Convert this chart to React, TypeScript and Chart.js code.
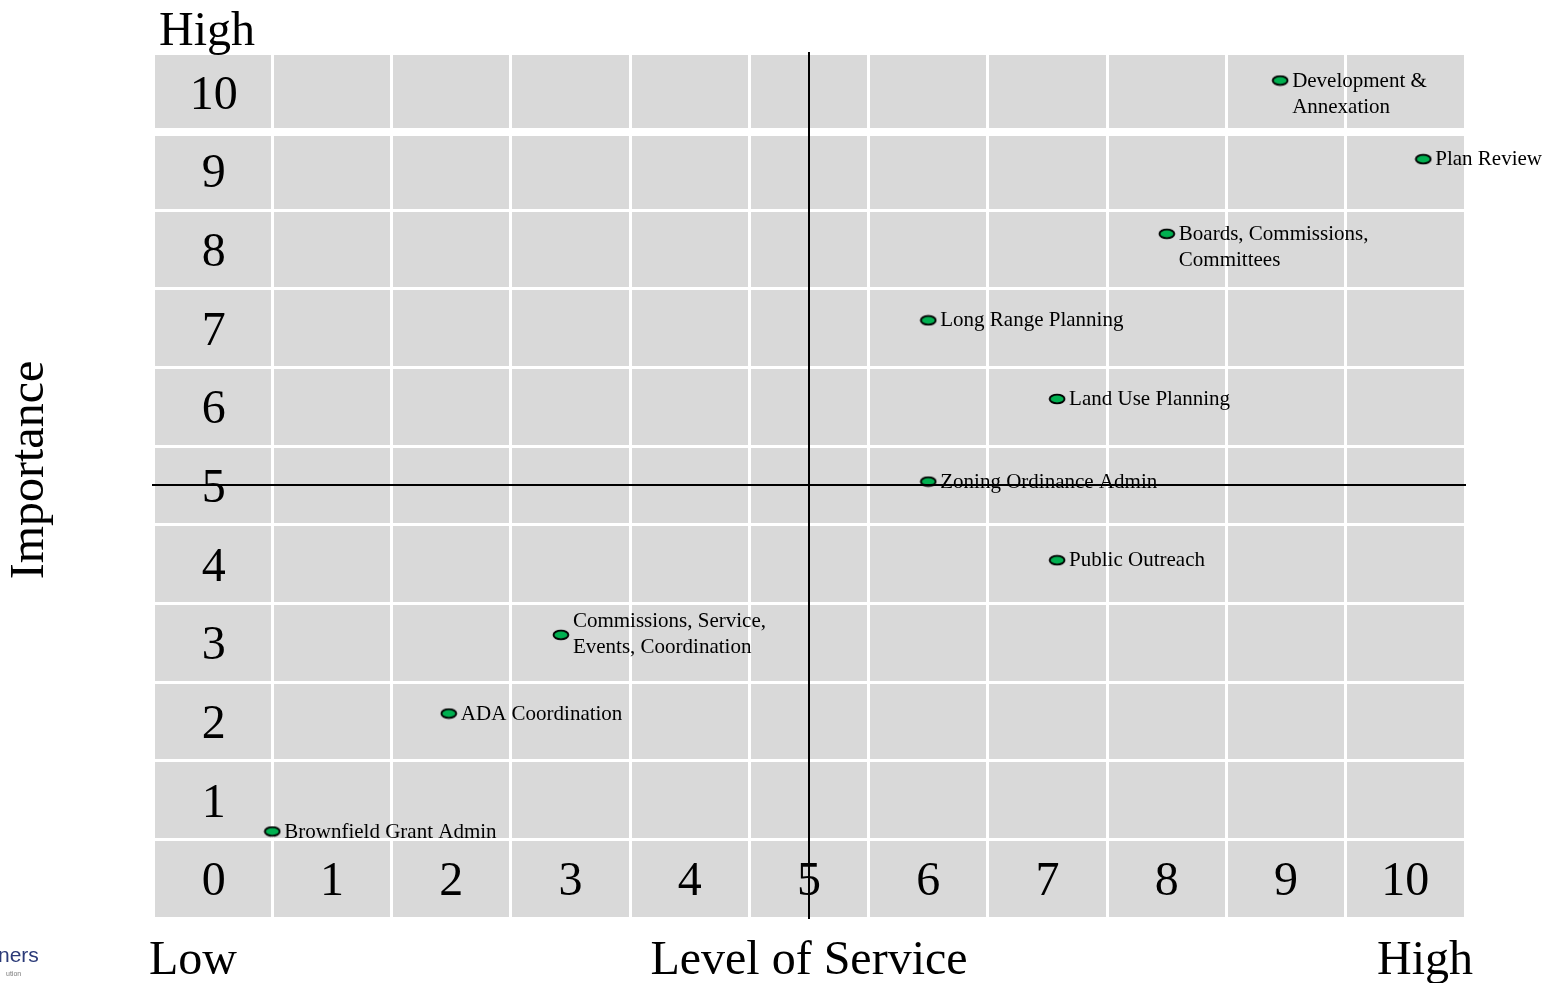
import { useEffect, useRef } from "react";
import { Chart, registerables } from "chart.js";

Chart.register(...registerables);

// Services rated on level of service (x) and importance (y)
const SERVICES: string[][] = [
  ["Development &", "Annexation"],
  ["Plan Review"],
  ["Boards, Commissions,", "Committees"],
  ["Long Range Planning"],
  ["Land Use Planning"],
  ["Zoning Ordinance Admin"],
  ["Public Outreach"],
  ["Commissions, Service,", "Events, Coordination"],
  ["ADA Coordination"],
  ["Brownfield Grant Admin"],
];
const LEVEL_OF_SERVICE = [8.95, 10.15, 8, 6, 7.08, 6, 7.08, 2.92, 1.98, 0.5];
const IMPORTANCE = [10.15, 9.15, 8.2, 7.1, 6.1, 5.05, 4.05, 3.1, 2.1, 0.6];

// Score labels written in the first column and the bottom row
const SCORE_TICKS = [0, 1, 2, 3, 4, 5, 6, 7, 8, 9, 10];
const QUADRANT_SPLIT = 5;

const AXIS_TITLES = {
  importance: "Importance",
  service: "Level of Service",
  low: "Low",
  high: "High",
};

// Labels whose text block is centred on the marker rather than starting at it
const CENTERED_LABELS = ["Commissions, Service,"];

const SERIF = '"Liberation Serif", "Times New Roman", serif';
const CELL_GRAY = "#d9d9d9";
const MARKER_GREEN = "#00b050";

function makeMarker(): HTMLCanvasElement {
  const c = document.createElement("canvas");
  c.width = 18;
  c.height = 12;
  const g = c.getContext("2d")!;
  g.beginPath();
  g.ellipse(9, 6, 7.4, 4.4, 0, 0, Math.PI * 2);
  g.fillStyle = MARKER_GREEN;
  g.fill();
  g.lineWidth = 1.9;
  g.strokeStyle = "#000";
  g.stroke();
  return c;
}

const cellEdges = [SCORE_TICKS[0] - 0.5, ...SCORE_TICKS.map((t) => t + 0.5)];

const matrixPlugin = {
  id: "matrixDecor",
  beforeDraw(chart: any) {
    const { ctx, chartArea: a } = chart;
    ctx.save();
    ctx.fillStyle = CELL_GRAY;
    ctx.fillRect(a.left, a.top, a.right - a.left, a.bottom - a.top);
    ctx.restore();
  },
  afterDatasetsDraw(chart: any) {
    const { ctx } = chart;
    const xs = chart.scales.x;
    const ys = chart.scales.y;
    ctx.save();
    ctx.fillStyle = "#000";

    // score numbers inside the first column and bottom row
    ctx.font = `48px ${SERIF}`;
    ctx.textAlign = "center";
    ctx.textBaseline = "alphabetic";
    const x0 = xs.getPixelForValue(SCORE_TICKS[0]);
    const y0 = ys.getPixelForValue(SCORE_TICKS[0]);
    SCORE_TICKS.forEach((t) => {
      ctx.fillText(String(t), x0 + 1, ys.getPixelForValue(t) + 16.5);
      if (t !== SCORE_TICKS[0]) {
        ctx.fillText(String(t), xs.getPixelForValue(t), y0 + 16.5);
      }
    });

    // service labels next to their markers
    ctx.font = `21px ${SERIF}`;
    ctx.textAlign = "left";
    const meta = chart.getDatasetMeta(0);
    meta.data.forEach((pt: any, i: number) => {
      const lines = SERVICES[i];
      const lh = 26;
      let base = pt.y + 6;
      if (CENTERED_LABELS.includes(lines[0])) {
        base = pt.y + 5 - ((lines.length - 1) * lh) / 2;
      }
      lines.forEach((ln, k) => ctx.fillText(ln, pt.x + 12, base + k * lh));
    });
    ctx.restore();
  },
  afterDraw(chart: any) {
    const { ctx, chartArea: a } = chart;
    const xs = chart.scales.x;
    const ys = chart.scales.y;
    ctx.save();

    // quadrant dividers
    ctx.strokeStyle = "#000";
    ctx.lineWidth = 2;
    const qx = Math.round(xs.getPixelForValue(QUADRANT_SPLIT));
    const qy = Math.round(ys.getPixelForValue(QUADRANT_SPLIT)) - 1;
    ctx.beginPath();
    ctx.moveTo(qx, a.top - 1);
    ctx.lineTo(qx, a.bottom + 1);
    ctx.moveTo(a.left - 1, qy);
    ctx.lineTo(a.right + 1, qy);
    ctx.stroke();

    // axis titles
    ctx.fillStyle = "#000";
    ctx.font = `48px ${SERIF}`;
    ctx.textBaseline = "alphabetic";
    ctx.textAlign = "left";
    ctx.fillText(AXIS_TITLES.high, a.left + 6, a.top - 8);
    ctx.fillText(AXIS_TITLES.low, a.left - 4, 974);
    ctx.textAlign = "center";
    ctx.fillText(AXIS_TITLES.service, qx, 974);
    ctx.textAlign = "right";
    ctx.fillText(AXIS_TITLES.high, a.right + 8, 974);

    ctx.save();
    ctx.translate(43, 470);
    ctx.rotate(-Math.PI / 2);
    ctx.textAlign = "center";
    ctx.fillText(AXIS_TITLES.importance, 0, 0);
    ctx.restore();

    // corner logo fragment
    ctx.textAlign = "left";
    ctx.fillStyle = "#2b3a78";
    ctx.font = `500 21px "Liberation Sans", Arial, sans-serif`;
    ctx.fillText("ners", -2, 962);
    ctx.fillStyle = "#7a7a7a";
    ctx.font = `7px "Liberation Sans", Arial, sans-serif`;
    ctx.fillText("ution", 6, 976);

    ctx.restore();
  },
};

export default function App() {
  const ref = useRef<HTMLCanvasElement | null>(null);

  useEffect(() => {
    if (!ref.current) return;
    const marker = makeMarker();
    const chart = new Chart(ref.current, {
      type: "scatter",
      data: {
        datasets: [
          {
            label: "Services",
            data: LEVEL_OF_SERVICE.map((x, i) => ({ x, y: IMPORTANCE[i] })),
            pointStyle: marker as any,
            pointRadius: 8,
            pointHoverRadius: 8,
          },
        ],
      },
      options: {
        animation: false,
        responsive: true,
        maintainAspectRatio: false,
        layout: { padding: { left: 153, right: 86, top: 53, bottom: 65 } },
        plugins: {
          legend: { display: false },
          tooltip: { enabled: false },
          title: { display: false },
        },
        scales: {
          x: {
            type: "linear",
            min: cellEdges[0],
            max: cellEdges[cellEdges.length - 1],
            afterBuildTicks: (scale: any) => {
              scale.ticks = cellEdges.map((v) => ({ value: v }));
            },
            ticks: { display: false },
            border: { display: false },
            grid: { color: "#ffffff", lineWidth: 3, drawTicks: false },
          },
          y: {
            type: "linear",
            min: cellEdges[0],
            max: cellEdges[cellEdges.length - 1],
            afterBuildTicks: (scale: any) => {
              scale.ticks = cellEdges.map((v) => ({ value: v }));
            },
            ticks: { display: false },
            border: { display: false },
            grid: {
              color: "#ffffff",
              lineWidth: (c: any) => (c.tick && c.tick.value === 9.5 ? 8 : 3),
              drawTicks: false,
            },
          },
        },
      },
      plugins: [matrixPlugin],
    });
    return () => chart.destroy();
  }, []);

  return (
    <div style={{ position: "absolute", left: 0, top: 0, width: 1551, height: 983 }}>
      <canvas ref={ref} />
    </div>
  );
}
